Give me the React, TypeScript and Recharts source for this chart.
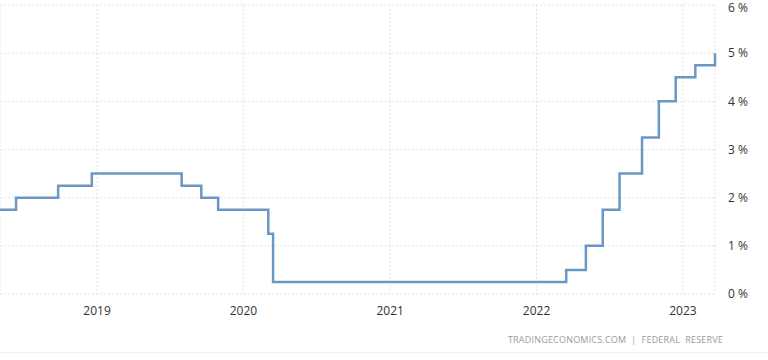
import { CartesianGrid, Line, LineChart, XAxis, YAxis } from "recharts";

// Fed funds rate (upper bound), date of each change
const changeDates = [
  "2018-05-04",
  "2018-06-13",
  "2018-09-26",
  "2018-12-19",
  "2019-07-31",
  "2019-09-18",
  "2019-10-30",
  "2020-03-03",
  "2020-03-15",
  "2022-03-16",
  "2022-05-04",
  "2022-06-15",
  "2022-07-27",
  "2022-09-21",
  "2022-11-02",
  "2022-12-14",
  "2023-02-01",
  "2023-03-22",
];
const rates = [
  1.75, 2.0, 2.25, 2.5, 2.25, 2.0, 1.75, 1.25, 0.25, 0.5, 1.0, 1.75, 2.5,
  3.25, 4.0, 4.5, 4.75, 5.0,
];
const yearTicks = ["2019-01-01", "2020-01-01", "2021-01-01", "2022-01-01", "2023-01-01"];
const yTicks = [0, 1, 2, 3, 4, 5, 6];

const ts = (d: string) => new Date(d + "T00:00:00Z").getTime();

const data = changeDates.map((d, i) => ({ t: ts(d), rate: rates[i] }));
const domainStart = ts(changeDates[0]);
const domainEnd = ts(changeDates[changeDates.length - 1]);

export default function App() {
  return (
    <div
      style={{
        position: "absolute",
        left: 0,
        top: 0,
        width: 768,
        height: 360,
        background: "#fff",
        fontFamily: "'Open Sans', sans-serif",
      }}
    >
      <LineChart
        width={768}
        height={360}
        data={data}
        margin={{ top: 5, right: 0, left: 0, bottom: 36 }}
      >
        <CartesianGrid strokeDasharray="2 2" stroke="#e2e2e2" />
        <XAxis
          dataKey="t"
          type="number"
          scale="time"
          domain={[domainStart, domainEnd]}
          ticks={yearTicks.map(ts)}
          tickFormatter={(v: number) => String(new Date(v).getUTCFullYear())}
          axisLine={false}
          tickLine={false}
          tick={{ fontSize: 12, fill: "#333" }}
          tickMargin={6}
          height={30}
        />
        <YAxis
          orientation="right"
          domain={[0, 6]}
          ticks={yTicks}
          tickFormatter={(v: number) => `${v} %`}
          axisLine={false}
          tickLine={false}
          tickSize={0}
          tickMargin={13}
          tick={{ fontSize: 12, fill: "#333", textAnchor: "start" }}
          width={53}
        />
        <Line
          type="stepAfter"
          dataKey="rate"
          stroke="#6b98c3"
          strokeWidth={2.5}
          dot={false}
          isAnimationActive={false}
        />
      </LineChart>
      <div
        style={{
          position: "absolute",
          right: 45,
          top: 333,
          fontSize: 9,
          color: "#9a9a9a",
          letterSpacing: 0.2,
          whiteSpace: "pre",
        }}
      >
        TRADINGECONOMICS.COM  |  FEDERAL  RESERVE
      </div>
      <div
        style={{
          position: "absolute",
          left: 0,
          top: 352,
          width: 768,
          borderTop: "1px solid #f0f0f0",
        }}
      />
    </div>
  );
}
